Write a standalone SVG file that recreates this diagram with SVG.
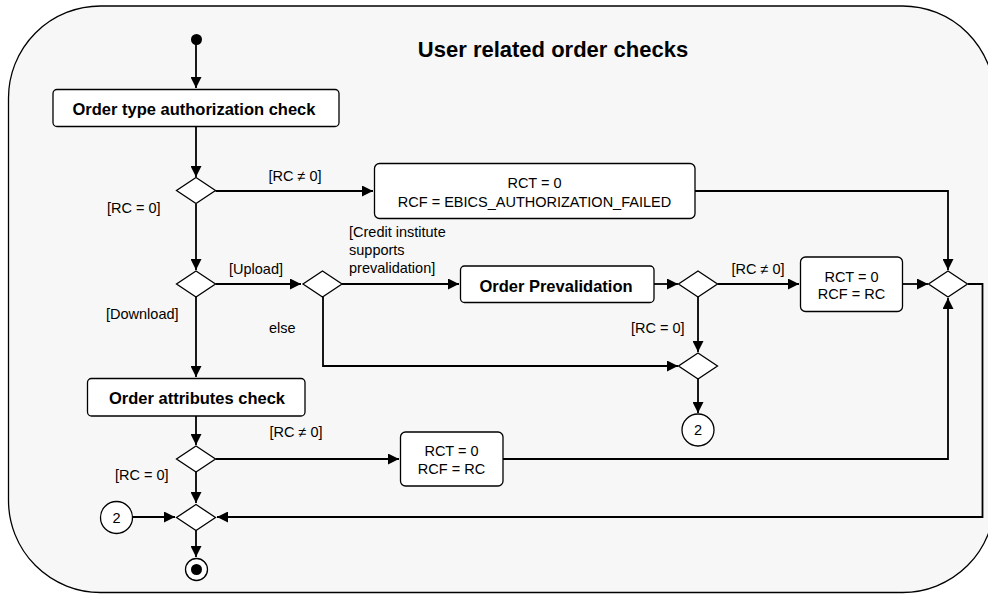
<svg xmlns="http://www.w3.org/2000/svg" width="988" height="594" viewBox="0 0 988 594">
<style>
.frame{fill:#f7f7f7;stroke:#000;stroke-width:1.3}
.box{fill:#fff;stroke:#000;stroke-width:1.3}
.dia{fill:#fff;stroke:#000;stroke-width:1.3}
.c{fill:none;stroke:#000;stroke-width:1.8}
.t{font-family:"Liberation Sans",Arial,sans-serif;font-size:14.5px;fill:#000}
.b{font-family:"Liberation Sans",Arial,sans-serif;font-size:16.5px;font-weight:bold;fill:#000}
.m{text-anchor:middle}
</style>
<defs>
<marker id="ah" markerUnits="userSpaceOnUse" markerWidth="12" markerHeight="11" viewBox="0 0 12 11" refX="11" refY="5.5" orient="auto">
<path d="M0,0 L11,5.5 L0,11 z" fill="#000"/>
</marker>
</defs>
<rect class="frame" x="8.5" y="6" width="986" height="586.5" rx="92" ry="92"/>
<text x="553" y="57" class="b m" style="font-size:22px">User related order checks</text>

<g id="connectors">
<path class="c" d="M196,40 V88" marker-end="url(#ah)"/>
<path class="c" d="M196,127 V177" marker-end="url(#ah)"/>
<path class="c" d="M215.5,191 H373" marker-end="url(#ah)"/>
<path class="c" d="M695,191 H948 V270" marker-end="url(#ah)"/>
<path class="c" d="M196,204 V270" marker-end="url(#ah)"/>
<path class="c" d="M215.5,284 H301" marker-end="url(#ah)"/>
<path class="c" d="M342,284 H459" marker-end="url(#ah)"/>
<path class="c" d="M654,284 H678" marker-end="url(#ah)"/>
<path class="c" d="M717.5,284 H799" marker-end="url(#ah)"/>
<path class="c" d="M903,284 H928" marker-end="url(#ah)"/>
<path class="c" d="M968,284 H982.5 V517 H217" marker-end="url(#ah)"/>
<path class="c" d="M698,297 V352" marker-end="url(#ah)"/>
<path class="c" d="M323,297 V366 H678" marker-end="url(#ah)"/>
<path class="c" d="M698,379 V413" marker-end="url(#ah)"/>
<path class="c" d="M196,297 V377" marker-end="url(#ah)"/>
<path class="c" d="M196,416 V445" marker-end="url(#ah)"/>
<path class="c" d="M215.5,459 H399" marker-end="url(#ah)"/>
<path class="c" d="M503,459 H948 V298" marker-end="url(#ah)"/>
<path class="c" d="M196,472 V503" marker-end="url(#ah)"/>
<path class="c" d="M133,517 H175" marker-end="url(#ah)"/>
<path class="c" d="M196,530 V557" marker-end="url(#ah)"/>
<text x="295" y="181" class="t m">[RC ≠ 0]</text>
<text x="107" y="213" class="t">[RC = 0]</text>
<text x="229" y="274" class="t">[Upload]</text>
<text x="349" y="237" class="t">[Credit institute</text>
<text x="349" y="255" class="t">supports</text>
<text x="349" y="273" class="t">prevalidation]</text>
<text x="758" y="274" class="t m">[RC ≠ 0]</text>
<text x="106" y="319" class="t">[Download]</text>
<text x="269" y="333" class="t">else</text>
<text x="631" y="333" class="t">[RC = 0]</text>
<text x="296" y="437" class="t m">[RC ≠ 0]</text>
<text x="115" y="480" class="t">[RC = 0]</text>
</g>

<g id="start"><circle cx="196.5" cy="39.5" r="5.5" fill="#000"/></g>

<g id="orderTypeAuth">
<rect class="box" x="53" y="89.5" width="286" height="37" rx="4"/>
<text x="194" y="115" class="b m">Order type authorization check</text>
</g>

<g id="d1"><path class="dia" d="M196,177.5 L215.5,190.5 L196,203.5 L176.5,190.5 z"/></g>

<g id="authFailed">
<rect class="box" x="374.5" y="163.5" width="320.5" height="55" rx="5"/>
<text x="534.5" y="188" class="t m">RCT = 0</text>
<text x="534.5" y="207" class="t m">RCF = EBICS_AUTHORIZATION_FAILED</text>
</g>

<g id="d2"><path class="dia" d="M196,271 L215.5,284 L196,297 L176.5,284 z"/></g>
<g id="d3"><path class="dia" d="M322.5,271 L342,284 L322.5,297 L303,284 z"/></g>

<g id="prevalidation">
<rect class="box" x="460.5" y="266" width="193.5" height="36.5" rx="4"/>
<text x="556" y="292" class="b m">Order Prevalidation</text>
</g>

<g id="d4"><path class="dia" d="M698,271 L717.5,284 L698,297 L678.5,284 z"/></g>

<g id="rcfRc1">
<rect class="box" x="800.5" y="257" width="102" height="54.5" rx="5"/>
<text x="851.5" y="282" class="t m">RCT = 0</text>
<text x="851.5" y="299" class="t m">RCF = RC</text>
</g>

<g id="dMergeRight"><path class="dia" d="M948,271 L967.5,284 L948,297 L928.5,284 z"/></g>

<g id="d5"><path class="dia" d="M698,353 L717.5,366 L698,379 L678.5,366 z"/></g>

<g id="conn2a">
<circle cx="698" cy="430" r="16" fill="#fff" stroke="#000" stroke-width="1.3"/>
<text x="698" y="435" class="t m">2</text>
</g>

<g id="orderAttributes">
<rect class="box" x="87.5" y="378.5" width="217.5" height="37.5" rx="4"/>
<text x="197" y="404" class="b m">Order attributes check</text>
</g>

<g id="d6"><path class="dia" d="M196,446 L215.5,459 L196,472 L176.5,459 z"/></g>

<g id="rcfRc2">
<rect class="box" x="400.5" y="432" width="102.5" height="54" rx="5"/>
<text x="451.5" y="456" class="t m">RCT = 0</text>
<text x="451.5" y="474" class="t m">RCF = RC</text>
</g>

<g id="d7"><path class="dia" d="M196,504.5 L215.5,517.5 L196,530.5 L176.5,517.5 z"/></g>

<g id="conn2b">
<circle cx="116.5" cy="517.5" r="16" fill="#fff" stroke="#000" stroke-width="1.3"/>
<text x="116.5" y="522.5" class="t m">2</text>
</g>

<g id="final">
<circle cx="196.5" cy="569.5" r="11" fill="#fff" stroke="#000" stroke-width="1.3"/>
<circle cx="196.5" cy="569.5" r="5.5" fill="#000"/>
</g>
</svg>
